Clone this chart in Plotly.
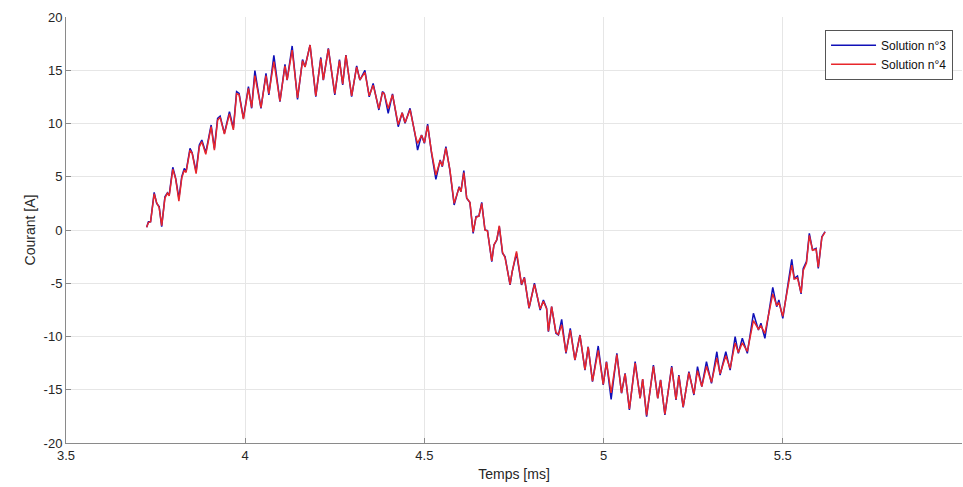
import plotly.graph_objects as go

# Time samples (ms)
temps = [
    3.725, 3.730, 3.736, 3.746, 3.753, 3.760, 3.767, 3.776, 3.783, 3.788,
    3.798, 3.806, 3.815, 3.823, 3.830, 3.835, 3.846, 3.852, 3.863, 3.872,
    3.879, 3.890, 3.905, 3.914, 3.923, 3.930, 3.942, 3.956, 3.967, 3.976,
    3.983, 3.995, 4.009, 4.018, 4.027, 4.044, 4.058, 4.066, 4.080, 4.097,
    4.111, 4.117, 4.131, 4.146, 4.160, 4.167, 4.181, 4.197, 4.211, 4.218,
    4.232, 4.250, 4.263, 4.272, 4.281, 4.297, 4.311, 4.320, 4.334, 4.346,
    4.357, 4.373, 4.383, 4.388, 4.399, 4.411, 4.427, 4.438, 4.446, 4.460,
    4.476, 4.481, 4.492, 4.500, 4.509, 4.520, 4.532, 4.544, 4.550, 4.560,
    4.571, 4.583, 4.597, 4.602, 4.610, 4.618, 4.627, 4.636, 4.644, 4.652,
    4.660, 4.669, 4.676, 4.688, 4.694, 4.702, 4.709, 4.718, 4.725, 4.739,
    4.745, 4.757, 4.771, 4.779, 4.792, 4.807, 4.823, 4.832, 4.841, 4.846,
    4.855, 4.867, 4.874, 4.883, 4.895, 4.907, 4.920, 4.934, 4.948, 4.957,
    4.969, 4.985, 4.999, 5.008, 5.021, 5.037, 5.050, 5.060, 5.072, 5.088,
    5.102, 5.109, 5.120, 5.139, 5.151, 5.159, 5.171, 5.190, 5.202, 5.210,
    5.222, 5.238, 5.252, 5.262, 5.274, 5.287, 5.301, 5.316, 5.325, 5.341,
    5.353, 5.367, 5.376, 5.387, 5.401, 5.418, 5.432, 5.439, 5.450, 5.472,
    5.483, 5.489, 5.500, 5.509, 5.525, 5.532, 5.541, 5.551, 5.557, 5.566,
    5.574, 5.583, 5.593, 5.599, 5.609, 5.618,
]

# Current, solution n°3 (A)
courant_sol3 = [
    0.25, 0.77, 0.77, 3.54, 2.50, 2.20, 0.31, 3.13, 3.50, 3.29,
    5.89, 4.85, 2.98, 5.00, 5.79, 5.48, 7.67, 7.26, 5.48, 7.98,
    8.45, 7.26, 9.86, 7.67, 10.49, 10.70, 9.08, 11.10, 9.55, 12.99,
    12.83, 10.49, 13.46, 11.43, 14.96, 11.43, 14.70, 12.68, 16.40, 12.05,
    15.56, 14.08, 17.28, 12.27, 16.00, 15.33, 17.37, 12.52, 16.20, 14.08,
    17.06, 12.68, 16.00, 13.62, 16.43, 12.52, 15.40, 14.08, 15.00, 12.50,
    13.77, 11.27, 12.99, 12.83, 10.96, 12.77, 9.70, 11.02, 10.02, 11.43,
    8.60, 7.51, 8.92, 8.14, 9.95, 7.20, 4.76, 6.57, 5.94, 7.82,
    5.63, 2.35, 4.07, 3.60, 5.57, 2.98, 2.57, -0.31, 1.25, 1.31,
    2.60, 0.00, -0.06, -2.97, -1.41, -0.94, 0.31, -2.19, -2.50, -5.16,
    -3.91, -2.19, -5.16, -4.44, -7.35, -5.00, -7.51, -6.57, -7.35, -9.55,
    -7.20, -9.70, -9.86, -8.39, -11.58, -9.23, -12.21, -9.86, -13.15, -10.96,
    -14.24, -10.89, -14.55, -12.36, -15.90, -11.58, -15.33, -13.46, -16.90, -12.36,
    -15.80, -14.02, -17.53, -12.68, -15.80, -14.08, -17.37, -12.77, -15.96, -13.62,
    -16.65, -13.30, -15.49, -12.83, -14.71, -12.36, -14.40, -11.43, -13.62, -11.43,
    -13.15, -10.02, -11.58, -10.17, -11.58, -7.82, -9.39, -8.76, -10.17, -5.38,
    -7.20, -6.57, -8.29, -6.26, -2.76, -4.54, -4.32, -6.00, -3.60, -2.97,
    -0.31, -1.88, -1.72, -3.60, -0.63, -0.16,
]

# Current, solution n°4 (A)
courant_sol4 = [
    0.25, 0.70, 0.77, 3.40, 2.55, 2.10, 0.40, 3.00, 3.45, 3.20,
    5.70, 4.80, 2.70, 4.90, 5.60, 5.40, 7.50, 7.20, 5.30, 7.80,
    8.30, 7.10, 9.70, 7.50, 10.30, 10.60, 9.00, 10.90, 9.40, 12.80,
    12.70, 10.40, 13.30, 11.50, 14.50, 11.50, 14.50, 12.80, 15.80, 12.10,
    15.40, 14.10, 16.90, 12.40, 15.90, 15.30, 17.37, 12.60, 16.10, 14.10,
    17.00, 12.80, 15.90, 13.70, 16.40, 12.60, 15.30, 14.10, 14.80, 12.60,
    13.60, 11.40, 12.90, 12.80, 11.40, 12.70, 9.90, 11.00, 10.10, 11.30,
    8.70, 8.14, 8.90, 8.20, 9.80, 7.30, 5.16, 6.50, 6.00, 7.70,
    5.70, 2.50, 4.00, 3.60, 5.40, 3.00, 2.60, -0.20, 1.20, 1.30,
    2.50, 0.00, -0.10, -2.90, -1.40, -0.90, 0.40, -2.10, -2.60, -5.10,
    -3.90, -2.00, -5.10, -4.50, -7.30, -5.10, -7.40, -6.70, -7.40, -9.50,
    -7.20, -9.60, -9.80, -8.90, -11.50, -9.40, -12.20, -9.90, -13.10, -11.00,
    -14.20, -11.30, -14.50, -12.40, -15.30, -11.70, -15.30, -13.50, -16.80, -12.50,
    -15.80, -14.00, -17.40, -12.80, -15.80, -14.10, -17.30, -12.90, -15.90, -13.70,
    -16.60, -13.40, -15.40, -13.20, -14.70, -12.80, -14.30, -12.00, -13.50, -11.80,
    -13.00, -10.60, -11.50, -10.60, -11.40, -8.50, -9.30, -9.00, -9.70, -6.00,
    -7.10, -6.80, -8.10, -6.50, -3.30, -4.60, -4.50, -5.90, -3.80, -3.10,
    -0.50, -1.90, -1.80, -3.50, -0.70, -0.20,
]

# Axis ticks (plain hyphen for negative values)
x_ticks = [3.5, 4, 4.5, 5, 5.5, 6]
x_labels = ["3.5", "4", "4.5", "5", "5.5", "6"]
y_ticks = [-20, -15, -10, -5, 0, 5, 10, 15, 20]
y_labels = ["-20", "-15", "-10", "-5", "0", "5", "10", "15", "20"]

AXIS_GREY = "#8a8a8a"
TEXT_GREY = "#262626"
GRID_GREY = "#e6e6e6"
FONT = "Liberation Sans, Arial, sans-serif"

fig = go.Figure()
fig.add_trace(go.Scatter(
    x=temps, y=courant_sol3, mode="lines", name="Solution n°3",
    line=dict(color="#1010b8", width=1.5),
))
fig.add_trace(go.Scatter(
    x=temps, y=courant_sol4, mode="lines", name="Solution n°4",
    line=dict(color="#e8262b", width=1.5),
))

fig.update_layout(
    width=963, height=487,
    margin=dict(l=66, r=1, t=17, b=44),
    paper_bgcolor="white", plot_bgcolor="white",
    font=dict(family=FONT, size=13, color=TEXT_GREY),
    showlegend=True,
    legend=dict(
        x=0.99, y=0.97, xanchor="right", yanchor="top",
        bgcolor="white", bordercolor="#555555", borderwidth=1,
        font=dict(family=FONT, size=12, color="#111111"),
        tracegroupgap=0, itemwidth=45,
    ),
)

fig.update_xaxes(
    range=[3.5, 6], tickmode="array",
    tickvals=x_ticks, ticktext=x_labels,
    ticks="inside", ticklen=5, tickcolor=AXIS_GREY,
    showline=True, linecolor=AXIS_GREY, linewidth=1,
    showgrid=True, gridcolor=GRID_GREY, gridwidth=1,
    zeroline=False,
    title=dict(text="Temps [ms]", font=dict(size=14, color=TEXT_GREY), standoff=7),
    tickfont=dict(size=13, color=TEXT_GREY),
)
fig.update_yaxes(
    range=[-20, 20], tickmode="array",
    tickvals=y_ticks, ticktext=y_labels,
    ticks="inside", ticklen=5, tickcolor=AXIS_GREY,
    showline=True, linecolor=AXIS_GREY, linewidth=1,
    showgrid=True, gridcolor=GRID_GREY, gridwidth=1,
    zeroline=False,
    title=dict(text="Courant [A]", font=dict(size=14, color=TEXT_GREY), standoff=4),
    tickfont=dict(size=13, color=TEXT_GREY),
)

fig.write_html("out.html")
